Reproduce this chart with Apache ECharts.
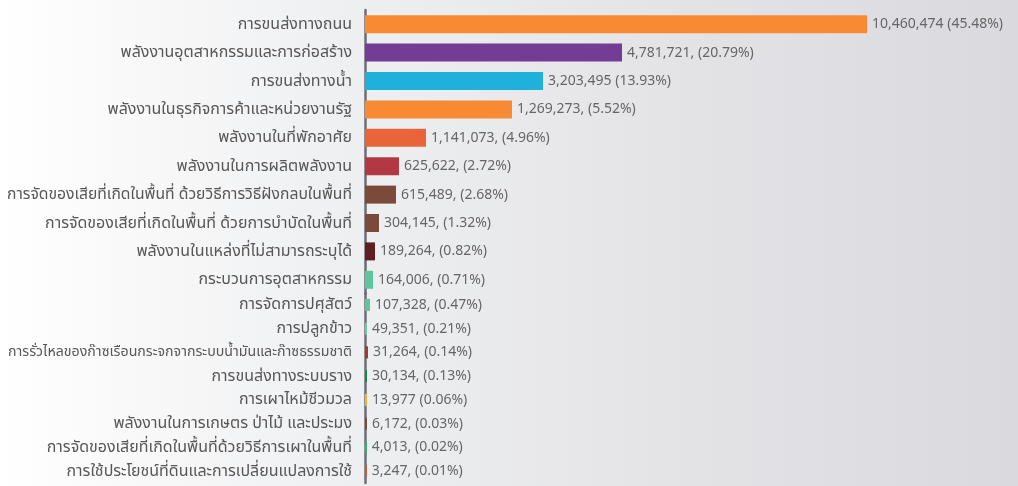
<!DOCTYPE html>
<html>
<head>
<meta charset="utf-8">
<script src="https://cdn.jsdelivr.net/npm/echarts@6/dist/echarts.min.js"></script>
<style>
  html, body { margin: 0; padding: 0; }
  #chart { width: 1018px; height: 486px; }
</style>
</head>
<body>
<div id="chart"></div>
<script>
// categories, top to bottom
let categories = [
    'การขนส่งทางถนน',
    'พลังงานอุตสาหกรรมและการก่อสร้าง',
    'การขนส่งทางน้ำ',
    'พลังงานในธุรกิจการค้าและหน่วยงานรัฐ',
    'พลังงานในที่พักอาศัย',
    'พลังงานในการผลิตพลังงาน',
    'การจัดของเสียที่เกิดในพื้นที่ ด้วยวิธีการวิธีฝังกลบในพื้นที่',
    'การจัดของเสียที่เกิดในพื้นที่ ด้วยการบำบัดในพื้นที่',
    'พลังงานในแหล่งที่ไม่สามารถระบุได้',
    'กระบวนการอุตสาหกรรม',
    'การจัดการปศุสัตว์',
    'การปลูกข้าว',
    'การรั่วไหลของก๊าซเรือนกระจกจากระบบน้ำมันและก๊าซธรรมชาติ',
    'การขนส่งทางระบบราง',
    'การเผาไหม้ชีวมวล',
    'พลังงานในการเกษตร ป่าไม้ และประมง',
    'การจัดของเสียที่เกิดในพื้นที่ด้วยวิธีการเผาในพื้นที่',
    'การใช้ประโยชน์ที่ดินและการเปลี่ยนแปลงการใช้'
];

// values printed next to each bar
let values = [10460474, 4781721, 3203495, 1269273, 1141073, 625622, 615489, 304145,
    189264, 164006, 107328, 49351, 31264, 30134, 13977, 6172, 4013, 3247];
let shares = ['45.48', '20.79', '13.93', '5.52', '4.96', '2.72', '2.68', '1.32',
    '0.82', '0.71', '0.47', '0.21', '0.14', '0.13', '0.06', '0.03', '0.02', '0.01'];
// the picture puts a comma after most numbers, not all
let seps = [' ', ', ', ' ', ', ', ', ', ', ', ', ', ', ',
    ', ', ', ', ', ', ', ', ', ', ', ', ' ', ', ', ', ', ', '];

// bar lengths as drawn in the picture (not to scale with the printed values)
let barLength = [10460474, 5355000, 3709000, 3063000, 1271000, 708000, 646000, 292000,
    208000, 167000, 104000, 42000, 63000, 42000, 42000, 42000, 38000, 38000];

let colors = ['#f88a33', '#733d96', '#20b0dc', '#f88a33', '#e8653a', '#b43843',
    '#7a4b3a', '#7a4b3a', '#5f1e21', '#5fc59c', '#5fc59c', '#6fcaa7',
    '#a43b27', '#128a4b', '#f8b13c', '#7a4b3a', '#1fbb69', '#d0552f'];

let split = 10;
let axisMax = 13231000;
let fontFace = '"Noto Sans", "Noto Sans Thai", "DejaVu Sans", sans-serif';

let fmt = n => n.toLocaleString('en-US');

// shrink only the names that would not fit left of the axis
let ctx = document.createElement('canvas').getContext('2d');
let labelSize = name => {
    ctx.font = '16px ' + fontFace;
    let w = ctx.measureText(name).width;
    return w > 346 ? Math.floor(16 * 346 / w * 10) / 10 : 16;
};

let makeCats = (from, to) => categories.slice(from, to).map(c => ({
    value: c,
    textStyle: { fontSize: labelSize(c) }
}));

let makeData = (from, to) => barLength.slice(from, to).map((v, i) => ({
    value: v,
    itemStyle: { color: colors[from + i] }
}));

let labelFor = from => p => {
    let i = from + p.dataIndex;
    return fmt(values[i]) + seps[i] + '(' + shares[i] + '%)';
};

let xAxisDef = idx => ({
    type: 'value', gridIndex: idx, min: 0, max: axisMax, show: false
});

let yAxisDef = (idx, cats) => ({
    type: 'category',
    gridIndex: idx,
    inverse: true,
    data: cats,
    axisTick: { show: false },
    axisLine: { show: true, lineStyle: { color: '#6e6d75', width: 2.5 } },
    axisLabel: {
        color: '#575757',
        fontSize: 16,
        margin: 13,
        fontFamily: fontFace
    }
});

let seriesDef = (idx, from, to, width) => ({
    type: 'bar',
    xAxisIndex: idx,
    yAxisIndex: idx,
    barWidth: width,
    data: makeData(from, to),
    label: {
        show: true,
        position: 'right',
        distance: 5,
        color: '#666666',
        fontSize: 14,
        fontFamily: fontFace,
        formatter: labelFor(from)
    }
});

let option = {
    backgroundColor: new echarts.graphic.LinearGradient(0, 0, 1, 0, [
        { offset: 0, color: '#ffffff' },
        { offset: 0.08, color: '#fbfbfb' },
        { offset: 0.35, color: '#eeeff1' },
        { offset: 0.65, color: '#e4e4e7' },
        { offset: 1, color: '#dad9de' }
    ]),
    animation: false,
    grid: [
        { left: 365, right: 18, top: 10, height: 284, outerBoundsMode: 'none' },
        { left: 365, right: 18, top: 293, height: 190, outerBoundsMode: 'none' }
    ],
    xAxis: [xAxisDef(0), xAxisDef(1)],
    yAxis: [
        yAxisDef(0, makeCats(0, split)),
        yAxisDef(1, makeCats(split, categories.length))
    ],
    series: [
        seriesDef(0, 0, split, 18),
        seriesDef(1, split, categories.length, 12)
    ]
};

let myChart = echarts.init(document.getElementById('chart'));
myChart.setOption(option);
</script>
</body>
</html>
